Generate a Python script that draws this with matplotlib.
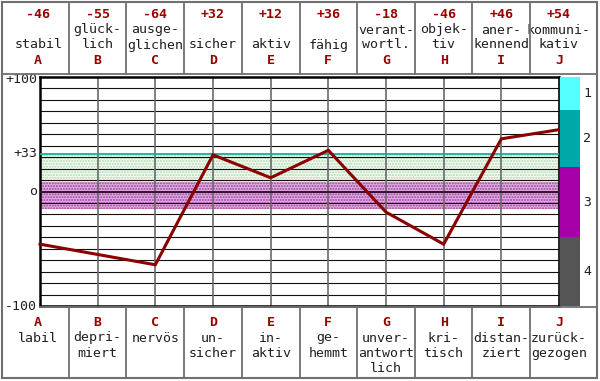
import matplotlib
matplotlib.use("Agg")
import matplotlib.pyplot as plt
from matplotlib.transforms import blended_transform_factory
from matplotlib.patches import Rectangle
from matplotlib.lines import Line2D

# ---------------- data ----------------
letters = ["A", "B", "C", "D", "E", "F", "G", "H", "I", "J"]
values = [-46, -55, -64, 32, 12, 36, -18, -46, 46, 54]
top_labels = ["stabil", "glück-\nlich", "ausge-\nglichen", "sicher", "aktiv",
              "fähig", "verant-\nwortl.", "objek-\ntiv", "aner-\nkennend",
              "kommuni-\nkativ"]
bottom_labels = ["labil", "depri-\nmiert", "nervös", "un-\nsicher", "in-\naktiv",
                 "ge-\nhemmt", "unver-\nantwort\nlich", "kri-\ntisch",
                 "distan-\nziert", "zurück-\ngezogen"]
y_tick_values = [100, 33, 0, -100]
y_tick_labels = ["+100", "+33", "o", "-100"]
green_band = (8, 33)
purple_band = (-15, 8)
zone_edges = [100, 71, 21, -40, -100]
zone_labels = ["1", "2", "3", "4"]
zone_colors = ["#55FFFF", "#00A8A8", "#A800A8", "#555555"]

W, H = 600, 381
def fx(x): return x / W
def fy(y): return 1 - y / H

plt.rcParams['font.family'] = ['DejaVu Sans Mono', 'DejaVu Sans']
fig = plt.figure(figsize=(6, 3.81), dpi=100)
fig.patch.set_facecolor("white")

# plot axes: x 40..559, y 77..306
ax = fig.add_axes([fx(40), fy(306), (559 - 40) / W, (306 - 77) / H])
n = len(values)
ax.set_xlim(0, n - 1)
ax.set_ylim(-100, 100)
ax.set_xticks([]); ax.set_yticks([])
for s in ax.spines.values():
    s.set_color("black")
ax.spines['top'].set_linewidth(1.8)
ax.spines['left'].set_linewidth(1.8)
ax.spines['bottom'].set_linewidth(1.8)
ax.spines['right'].set_linewidth(1.2)

plt.rcParams['hatch.linewidth'] = 1.0
ax.fill_between([0, n - 1], green_band[0], green_band[1], facecolor="#F7FCF7",
                edgecolor="#A8D8A8", hatch="......", linewidth=0, zorder=1)
ax.fill_between([0, n - 1], purple_band[0], purple_band[1], facecolor="#DDB0DD",
                edgecolor="#A040A0", hatch="......", linewidth=0, zorder=1)

for v in range(-90, 100, 10):
    ax.axhline(v, color="#101010", lw=0.8, zorder=2)
for i in range(1, n - 1):
    ax.axvline(i, color="#6A6A6A", lw=1.2, zorder=2)
ax.axhline(33, color="#20A8A8", lw=1.3, zorder=3)
ax.axhline(0, color="#3A103A", lw=1.4, zorder=3)

ax.plot(range(n), values, color="#8B0000", lw=2.2, zorder=5, clip_on=False,
        solid_joinstyle="miter")

# zone bar
axz = fig.add_axes([fx(560), fy(306), 20 / W, (306 - 77) / H])
axz.set_xlim(0, 1); axz.set_ylim(-100, 100)
axz.axis("off")
for k in range(len(zone_labels)):
    top, bot = zone_edges[k], zone_edges[k + 1]
    axz.bar(0.5, top - bot, bottom=bot, width=1, color=zone_colors[k], linewidth=0)
    axz.text(1.35, (top + bot) / 2, zone_labels[k], ha="center", va="center",
             fontsize=9.5, color="#202020", clip_on=False)

# y labels
tr_y = blended_transform_factory(fig.transFigure, ax.transData)
for v, lab in zip(y_tick_values, y_tick_labels):
    yy = v - 2 if v == 100 else v
    ax.text(fx(37), yy, lab, transform=tr_y, ha="right", va="center",
            fontsize=9.5, color="#202020")

# frames / cells
def hline(y, x0, x1, **kw):
    fig.add_artist(Line2D([fx(x0), fx(x1)], [fy(y), fy(y)], transform=fig.transFigure, **kw))
def vline(x, y0, y1, **kw):
    fig.add_artist(Line2D([fx(x), fx(x)], [fy(y0), fy(y1)], transform=fig.transFigure, **kw))

fig.add_artist(Rectangle((fx(2), fy(378)), (597 - 2) / W, (378 - 2) / H,
                         transform=fig.transFigure, fill=False,
                         edgecolor="#707070", lw=1.5))
hline(74, 2, 597, color="#707070", lw=1.3)
hline(307, 40, 597, color="#707070", lw=1.3)
dividers = [69, 126, 184, 242, 300, 357, 415, 472, 530]
for x in dividers:
    vline(x, 2, 74, color="#707070", lw=1.3)
    vline(x, 307, 378, color="#707070", lw=1.3)

# header / footer texts
tr = blended_transform_factory(ax.transData, fig.transFigure)
red = "#990000"
txt = "#202020"
for i in range(n):
    xi = i if i > 0 else -0.03
    ax.text(xi, fy(15), f"{values[i]:+d}", transform=tr, ha="center", va="center",
            fontsize=9.5, color=red, fontweight="bold")
    lines = top_labels[i].split("\n")
    k = len(lines)
    for j, ln in enumerate(lines):
        ax.text(xi, fy(45 - (k - 1 - j) * 15), ln, transform=tr, ha="center",
                va="center", fontsize=9.5, color=txt)
    ax.text(xi, fy(61), letters[i], transform=tr, ha="center", va="center",
            fontsize=9.5, color=red, fontweight="bold")
    ax.text(xi, fy(322), letters[i], transform=tr, ha="center", va="center",
            fontsize=9.5, color=red, fontweight="bold")
    for j, ln in enumerate(bottom_labels[i].split("\n")):
        ax.text(xi, fy(338 + j * 15.5), ln, transform=tr, ha="center",
                va="center", fontsize=9.5, color=txt)

fig.savefig("out.png", dpi=100, facecolor="white")
